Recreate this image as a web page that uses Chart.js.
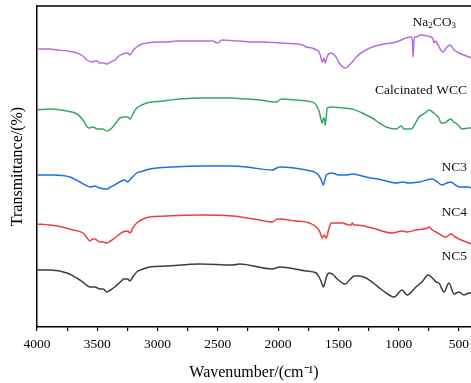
<!DOCTYPE html>
<html>
<head>
<meta charset="utf-8">
<script src="https://cdn.jsdelivr.net/npm/chart.js@4/dist/chart.umd.min.js"></script>
<style>
  html, body { margin: 0; padding: 0; background: #fff; }
  #wrap { width: 471px; height: 383px; }
</style>
</head>
<body>
<div id="wrap"><canvas id="chart" width="471" height="383"></canvas></div>
<script>
// FTIR spectra, offset (arbitrary transmittance units)
const seriesNames = ['Na_2CO_3', 'Calcinated WCC', 'NC3', 'NC4', 'NC5'];

const na2co3Wn = [4000,3900,3835,3750,3669,3620,3586,3545,3520,3504,3479,3450,3421,3390,3355,3320,3288,3247,3230,3200,3173,3130,3090,3000,2924,2842,2700,2544,2502,2469,2320,2200,2130,1989,1850,1799,1766,1720,1680,1666,1650,1634,1620,1608,1592,1559,1520,1493,1443,1400,1352,1300,1220,1120,1021,939,900,889,884,881,876,870,856,815,760,732,715,707,695,682,660,632,600,575,540,500,460,417,400];
const na2co3T  = [278,278,277,276,274,271,267,265,266,266,264,264,263,265,267,271,273,274,272,277,280,283,284,285,285,286,286,286,284,287,286,285,285,284,283,282,280,279,277,276,272,265,269,264,271,274,270,264,259,263,270,275,280,283,285,289,290,290,280,270,280,290,290,292,291,290,288,284,286,284,279,275,280,282,277,274,272,270,269];

const wccWn = [4000,3892,3800,3752,3669,3619,3570,3537,3495,3454,3421,3379,3340,3313,3272,3247,3230,3200,3173,3130,3090,2957,2817,2627,2403,2262,2155,2014,1973,1850,1766,1700,1658,1645,1634,1622,1617,1609,1592,1551,1468,1385,1303,1220,1160,1104,1021,980,955,897,860,831,780,748,720,707,680,666,649,624,595,566,545,525,500,475,417,400];
const wccT  = [217,218,217,216,213,207,199,200,198,198,196,199,205,209,210,210,208,214,219,222,224,226,228,229,229,228,227,225,228,227,226,224,215,208,204,209,209,202,219,220,219,218,214,209,204,200,198,201,198,198,204,210,214,217,215,214,211,209,204,204,206,208,205,204,201,198,199,199];

const nc3Wn = [4000,3868,3727,3644,3600,3561,3520,3479,3421,3390,3355,3300,3272,3247,3230,3173,3120,3065,2875,2627,2403,2262,2047,1989,1766,1683,1660,1642,1625,1610,1600,1551,1500,1435,1385,1270,1137,1021,970,914,831,724,690,641,600,566,530,500,417,400];
const nc3T  = [152,152,150,145,142,140,141,139,138,140,142,146,147,145,147,154,156,158,160,161,161,160,157,160,157,154,151,147,142,148,152,154,152,152,153,150,147,144,145,144,145,148,146,142,144,145,142,140,140,139];

const nc4Wn = [4000,3900,3835,3702,3619,3590,3561,3540,3520,3479,3450,3421,3390,3355,3288,3247,3230,3200,3173,3120,3065,2924,2651,2378,2200,2047,2006,1850,1741,1675,1650,1634,1617,1600,1580,1559,1468,1410,1394,1385,1370,1352,1220,1054,972,930,856,760,748,720,690,608,566,530,500,417,400];
const nc4T  = [103,102,101,97,94,90,86,88,88,85,85,84,86,89,95,96,94,100,104,108,110,111,112,111,108,105,108,106,104,99,94,89,92,89,98,104,104,102,102,104,102,102,99,94,96,95,97,99,100,97,95,90,93,90,88,84,83];

const nc5Wn = [4000,3892,3752,3644,3600,3561,3520,3479,3450,3421,3390,3355,3300,3280,3247,3230,3200,3173,3120,3065,2924,2651,2378,2320,2047,1989,1766,1683,1660,1642,1625,1610,1600,1576,1540,1518,1443,1400,1369,1330,1270,1200,1137,1038,972,930,856,800,757,720,690,666,624,583,541,500,459,417,400];
const nc5T  = [57,57,54,47,43,40,40,38,38,35,37,40,46,48,48,46,51,55,58,60,61,63,62,63,58,60,56,54,50,45,40,45,50,54,52,49,43,48,51,51,49,43,37,30,37,32,40,46,52,49,45,44,35,44,33,35,32,34,34];

const xTicks = [4000, 3500, 3000, 2500, 2000, 1500, 1000, 500];

// style
const serif = "'Liberation Serif', 'Times New Roman', serif";
const colors = ['#b36ee0', '#35a866', '#1f6fe3', '#f03c3c', '#3c3c3c'];
// where each name sits: [wavenumber of right edge, height in data units]
const labelSpots = [[525, 305], [434, 237], [434, 160], [434, 115], [434, 71]];

function pts(wn, t) {
  return wn.map((w, i) => ({ x: w, y: t[i] }));
}

const allWn = [na2co3Wn, wccWn, nc3Wn, nc4Wn, nc5Wn];
const allT = [na2co3T, wccT, nc3T, nc4T, nc5T];

const datasets = allWn.map((wn, i) => ({
  label: seriesNames[i].replace(/_/g, ''),
  data: pts(wn, allT[i]),
  borderColor: colors[i],
  borderWidth: 1.5,
  pointRadius: 0,
  fill: false,
  cubicInterpolationMode: 'monotone'
}));

// draws "Na_2CO_3" with subscripts, right aligned
function drawRich(ctx, text, xr, y, size) {
  const parts = [];
  text.split(/(_\d)/).forEach(p => {
    if (!p) return;
    if (p[0] === '_') parts.push([p.slice(1), true]);
    else parts.push([p, false]);
  });
  const big = size + 'px ' + serif;
  const small = Math.round(size * 0.7) + 'px ' + serif;
  let w = 0;
  parts.forEach(([s, sub]) => { ctx.font = sub ? small : big; w += ctx.measureText(s).width; });
  let x = xr - w;
  ctx.textAlign = 'left';
  parts.forEach(([s, sub]) => {
    ctx.font = sub ? small : big;
    ctx.fillText(s, x, sub ? y + size * 0.28 : y);
    x += ctx.measureText(s).width;
  });
}

const extras = {
  id: 'extras',
  afterDraw(chart) {
    const { ctx, chartArea: a, scales } = chart;
    ctx.save();
    ctx.strokeStyle = '#000';
    ctx.lineWidth = 1.5;
    ctx.beginPath();
    ctx.moveTo(a.left, a.top);
    ctx.lineTo(a.right, a.top);
    ctx.stroke();
    ctx.fillStyle = '#111';
    ctx.textBaseline = 'middle';
    seriesNames.forEach((name, i) => {
      const xr = scales.x.getPixelForValue(labelSpots[i][0]);
      const y = scales.y.getPixelForValue(labelSpots[i][1]);
      drawRich(ctx, name, xr, y, 13.5);
    });
    ctx.restore();
  }
};

const ctx = document.getElementById('chart').getContext('2d');
new Chart(ctx, {
  type: 'line',
  data: { datasets },
  options: {
    responsive: false,
    animation: false,
    devicePixelRatio: 1,
    layout: { padding: { top: 6, right: 0, bottom: 0, left: 0 } },
    plugins: { legend: { display: false }, tooltip: { enabled: false } },
    scales: {
      x: {
        type: 'linear',
        reverse: true,
        min: 400,
        max: 4000,
        afterFit: s => { s.height = 56; s.paddingRight = 0; s.paddingLeft = 0; },
        afterBuildTicks: s => {
          const t = [];
          for (let v = 4000; v >= 500; v -= 250) t.push({ value: v });
          s.ticks = t;
        },
        ticks: {
          autoSkip: false,
          maxRotation: 0,
          padding: 5,
          color: '#000',
          font: { family: serif, size: 13.5 },
          callback: v => (xTicks.includes(v) ? String(v) : '')
        },
        grid: { drawOnChartArea: false, drawTicks: true, tickLength: 4, color: '#000', lineWidth: 1.2 },
        border: { display: true, color: '#000', width: 1.5 },
        title: {
          display: true,
          text: 'Wavenumber/(cm⁻¹)',
          color: '#000',
          font: { family: serif, size: 16 },
          padding: { top: 0, bottom: 1 }
        }
      },
      y: {
        min: 0,
        max: 321,
        afterFit: s => { s.width = 37; },
        ticks: { display: false },
        grid: { display: false },
        border: { display: true, color: '#000', width: 1.5 },
        title: {
          display: true,
          text: 'Transmittance/(%)',
          color: '#000',
          font: { family: serif, size: 16 },
          padding: { top: 8, bottom: 0 }
        }
      }
    }
  },
  plugins: [extras]
});
</script>
</body>
</html>
